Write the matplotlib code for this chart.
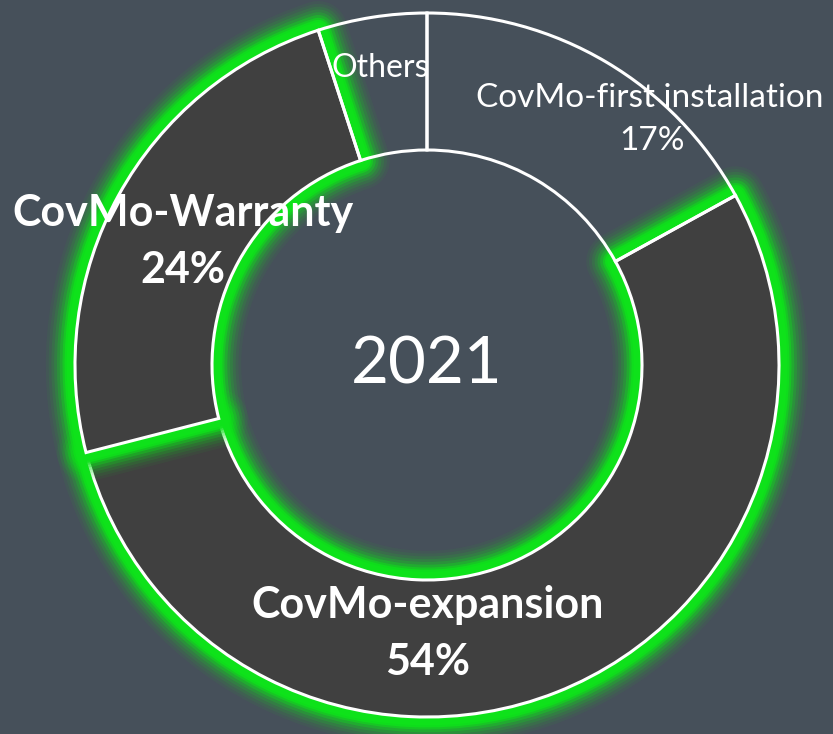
import matplotlib
matplotlib.use("Agg")
import matplotlib.pyplot as plt
from matplotlib.patches import Wedge

categories = ["CovMo-first installation", "CovMo-expansion", "CovMo-Warranty", "Others"]
values = [17, 54, 24, 5]
filled = [False, True, True, False]
pct_labels = ["17%", "54%", "24%", ""]
center_title = "2021"

W, H = 833, 734
fig = plt.figure(figsize=(W / 100, H / 100), dpi=100)
fig.patch.set_facecolor("#46505a")
ax = fig.add_axes([0, 0, 1, 1])
ax.set_xlim(0, W)
ax.set_ylim(0, H)
ax.set_aspect("equal")
ax.axis("off")

cx, cy = 427, H - 365
R = 352
width = 137

total = sum(values)
angles = []
start = 90.0
for v in values:
    sweep = 360.0 * v / total
    angles.append((start - sweep, start))
    start -= sweep

green = "#0ee21a"
glow_lws = [(42, 0.05), (38, 0.07), (34, 0.1), (30, 0.14), (26, 0.2), (22, 0.32),
            (18, 0.5), (15, 0.8), (12, 1.0)]

for (t1, t2), f in zip(angles, filled):
    if f:
        for lw, a in glow_lws:
            ax.add_patch(Wedge((cx, cy), R, t1, t2, width=width, facecolor="none",
                               edgecolor=green, linewidth=lw, alpha=a, joinstyle="round"))
        ax.add_patch(Wedge((cx, cy), R, t1, t2, width=width, facecolor="#404040",
                           edgecolor="white", linewidth=2.2))
for (t1, t2), f in zip(angles, filled):
    if not f:
        ax.add_patch(Wedge((cx, cy), R, t1, t2, width=width, facecolor="none",
                           edgecolor="white", linewidth=2.2))

font = "Lato"
ax.text(650, H - 98, categories[0], color="white", fontsize=24, family=font,
        ha="center", va="center")
ax.text(652, H - 141, pct_labels[0], color="white", fontsize=24, family=font,
        ha="center", va="center")
ax.text(428, H - 605, categories[1], color="white", fontsize=31, family=font,
        fontweight="bold", ha="center", va="center")
ax.text(428, H - 662, pct_labels[1], color="white", fontsize=31, family=font,
        fontweight="bold", ha="center", va="center")
ax.text(183, H - 213, categories[2], color="white", fontsize=31, family=font,
        fontweight="bold", ha="center", va="center")
ax.text(183, H - 270, pct_labels[2], color="white", fontsize=31, family=font,
        fontweight="bold", ha="center", va="center")
ax.text(380, H - 68, categories[3], color="white", fontsize=23, family=font,
        ha="center", va="center")
ax.text(cx, cy, center_title, color="white", fontsize=47, family=font,
        ha="center", va="center")

fig.savefig("out.png", dpi=100, facecolor=fig.get_facecolor())
